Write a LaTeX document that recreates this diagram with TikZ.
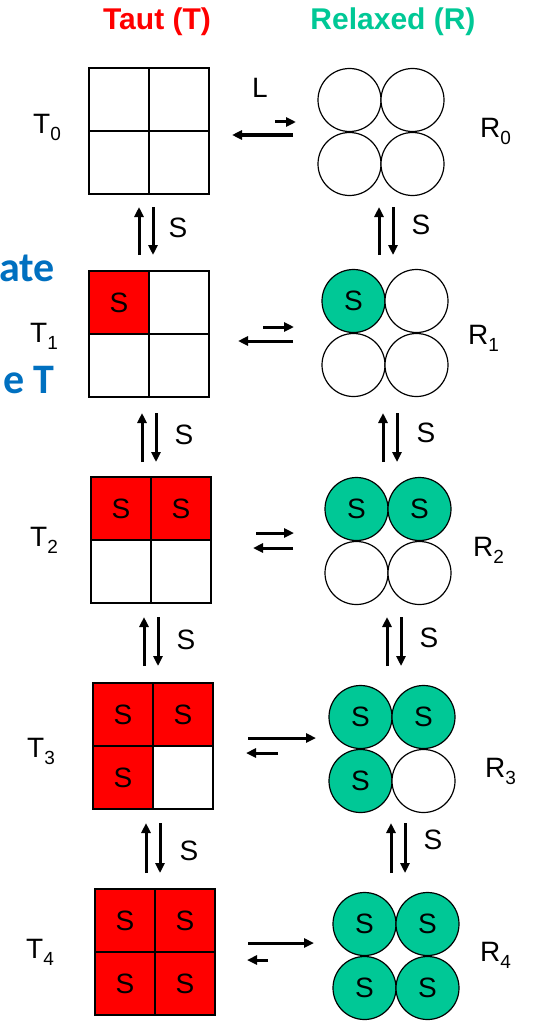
\documentclass[tikz,border=0pt]{standalone}
\usepackage{fontspec}
\setmainfont{Liberation Sans}
\newfontfamily\blufont{Carlito}
\usetikzlibrary{arrows.meta}
\definecolor{tred}{RGB}{255,0,0}
\definecolor{rgreen}{RGB}{0,200,150}
\definecolor{sblue}{RGB}{0,112,192}
\newcommand\sublab[2]{#1\raisebox{-7pt}{\fontsize{19}{19}\selectfont #2}}
\newcommand\txtS{S}
\newcommand\txtE{}
\begin{document}
\begin{tikzpicture}[x=1pt,y=-1pt,
 lab/.style={font=\fontsize{28}{30}\selectfont, inner sep=0},
 cellE/.style={draw, line width=1.6pt, minimum width=60pt, minimum height=63pt, inner sep=0, fill=white, font=\fontsize{28}{28}\selectfont},
 cellS/.style={cellE, fill=tred},
 circE/.style={circle, draw, line width=1.2pt, minimum size=63pt, inner sep=0, fill=white, font=\fontsize{28}{28}\selectfont},
 circS/.style={circE, fill=rgreen},
 arr/.style={line width=3pt, -{Triangle[length=10pt,width=9pt]}},
 head/.style={font=\bfseries\fontsize{30}{32}\selectfont, inner sep=0},
 blue/.style={font=\blufont\bfseries\fontsize{42}{44}\selectfont, text=sblue, inner sep=0, anchor=base east},
]
\path[use as bounding box, fill=white] (0,0) rectangle (546,1022);

\node[head, text=tred] (taut) at (157,22) {Taut (T)};
\node[head, text=rgreen] (relaxed) at (393,22) {Relaxed (R)};

\node[blue] (ate) at (55,281) {ate};
\node[blue] (eT) at (55,393) {e T};

% Taut boxes
\foreach \i/\cx/\cy/\a/\b/\c/\d in {0/149/131/E/E/E/E, 1/149/334/S/E/E/E, 2/151/540/S/S/E/E, 3/153/746/S/S/S/E, 4/155/952/S/S/S/S}{
  \node[cell\a] (T\i-a) at (\cx-30,\cy-31.5) {\csname txt\a\endcsname};
  \node[cell\b] (T\i-b) at (\cx+30,\cy-31.5) {\csname txt\b\endcsname};
  \node[cell\c] (T\i-c) at (\cx-30,\cy+31.5) {\csname txt\c\endcsname};
  \node[cell\d] (T\i-d) at (\cx+30,\cy+31.5) {\csname txt\d\endcsname};
}
% Relaxed circles
\foreach \i/\cx/\cy/\a/\b/\c/\d in {0/381/132/E/E/E/E, 1/385/333/S/E/E/E, 2/388/541/S/S/E/E, 3/392/749/S/S/S/E, 4/396/956/S/S/S/S}{
  \node[circ\a] (R\i-a) at (\cx-31.5,\cy-32) {\csname txt\a\endcsname};
  \node[circ\b] (R\i-b) at (\cx+31.5,\cy-32) {\csname txt\b\endcsname};
  \node[circ\c] (R\i-c) at (\cx-31.5,\cy+32) {\csname txt\c\endcsname};
  \node[circ\d] (R\i-d) at (\cx+31.5,\cy+32) {\csname txt\d\endcsname};
}

% state labels
\foreach \i/\x/\y in {0/33/133, 1/30/342, 2/30/546, 3/27/757, 4/26/958}{
  \node[lab, anchor=base west] (Tl\i) at (\x,\y) {\sublab{T}{\i}};
}
\foreach \i/\x/\y in {0/480/137, 1/468/344, 2/473/556, 3/485/777, 4/480/961}{
  \node[lab, anchor=base west] (Rl\i) at (\x,\y) {\sublab{R}{\i}};
}

% vertical binding arrows
\foreach \k/\tx/\rx/\ya/\yb/\tsx/\tsy/\rsx/\rsy in {0/139/379/207/255/178/228/421/225, 1/142/383/413/462/184/435/426/433, 2/144/387/617/666/186/640/429/638, 3/146/391/823/873/189/851/433/840}{
  \coordinate (tu\k a) at (\tx,\yb); \coordinate (tu\k b) at (\tx,\ya);
  \coordinate (td\k a) at (\tx+14,\ya); \coordinate (td\k b) at (\tx+14,\yb);
  \draw[arr] (tu\k a) -- (tu\k b);
  \draw[arr] (td\k a) -- (td\k b);
  \node[lab] (tS\k) at (\tsx,\tsy) {S};
  \coordinate (ru\k a) at (\rx,\yb); \coordinate (ru\k b) at (\rx,\ya);
  \coordinate (rd\k a) at (\rx+14,\ya); \coordinate (rd\k b) at (\rx+14,\yb);
  \draw[arr] (ru\k a) -- (ru\k b);
  \draw[arr] (rd\k a) -- (rd\k b);
  \node[lab] (rS\k) at (\rsx,\rsy) {S};
}

% horizontal T <-> R arrows
\foreach \r/\fa/\fb/\fy/\ra/\rb/\ry in {0/275/296/122/293/232/135, 1/263/294/327/293/238/341, 2/256/294/533/293/253/548, 3/248/316/738/278/246/753, 4/248/314/943/268/247/960}{
  \coordinate (f\r a) at (\fa,\fy); \coordinate (f\r b) at (\fb,\fy);
  \coordinate (b\r a) at (\ra,\ry); \coordinate (b\r b) at (\rb,\ry);
  \draw[arr] (f\r a) -- (f\r b);
  \draw[arr] (b\r a) -- (b\r b);
}
\node[lab] (L) at (260,88) {L};
\end{tikzpicture}
\end{document}
